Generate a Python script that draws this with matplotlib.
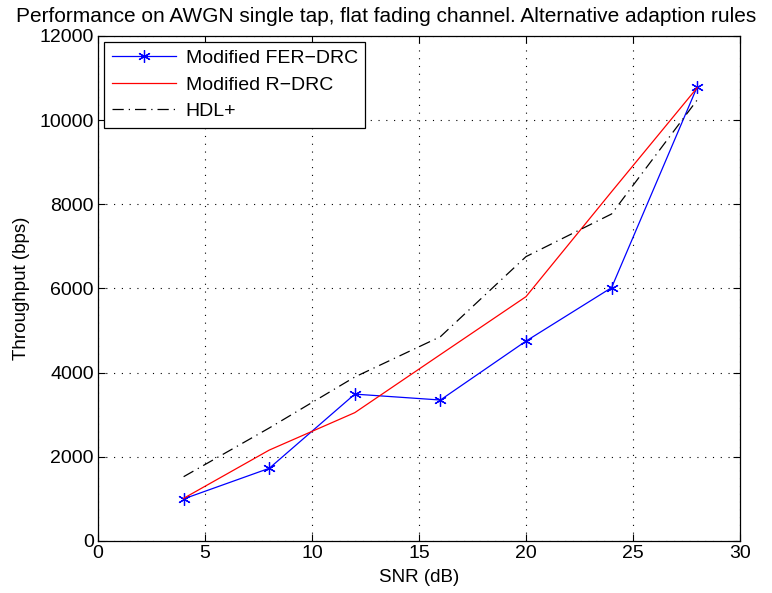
import numpy as np
import matplotlib
matplotlib.use("Agg")
import matplotlib.pyplot as plt

plt.rcParams['font.family'] = ['Liberation Sans', 'DejaVu Sans']

snr = [4, 8, 12, 16, 20, 24, 28]
fer_drc = [1000, 1727, 3490, 3350, 4750, 6020, 10790]
r_drc = [1014, 2160, 3050, 4430, 5806, 8300, 10770]
hdl = [1528, 2685, 3897, 4855, 6757, 7771, 10480]

fig = plt.figure(figsize=(7.72, 5.93), dpi=100)
ax = fig.add_axes([0.127, 0.0877, 0.8315, 0.8516])

ax.plot(snr, fer_drc, color='b', marker=(6, 2, 0), markersize=9, markeredgewidth=0.9,
        lw=0.9, label='Modified FER\u2212DRC')
ax.plot(snr, r_drc, color='r', lw=0.9, label='Modified R\u2212DRC')
ax.plot(snr, hdl, color='k', lw=0.9, dashes=(9, 4, 1, 4), label='HDL+')

ax.set_xlim(0, 30)
ax.set_ylim(0, 12000)
ax.set_xticks(range(0, 31, 5))
ax.set_yticks(range(0, 12001, 2000))
ax.grid(True, color='k', lw=0.8, dashes=(1, 6))
ax.tick_params(direction='in', top=True, right=True, labelsize=14, length=5, pad=3)
for s in ax.spines.values():
    s.set_linewidth(0.9)

ax.set_xlabel('SNR (dB)', fontsize=13.5, labelpad=5)
ax.set_ylabel('Throughput (bps)', fontsize=13.5, labelpad=7)
# title sits centred on the figure, as in the original export
fig.text(0.5, 0.963, 'Performance on AWGN single tap, flat fading channel. Alternative adaption rules',
         fontsize=15, ha='center', va='baseline')

leg = ax.legend(loc='upper left', fontsize=14, fancybox=False, edgecolor='k', framealpha=1,
                borderaxespad=0.3, handlelength=3.3, handletextpad=0.5,
                labelspacing=0.45, borderpad=0.4)
leg.get_frame().set_linewidth(0.9)

fig.savefig('out.png', dpi=100)
